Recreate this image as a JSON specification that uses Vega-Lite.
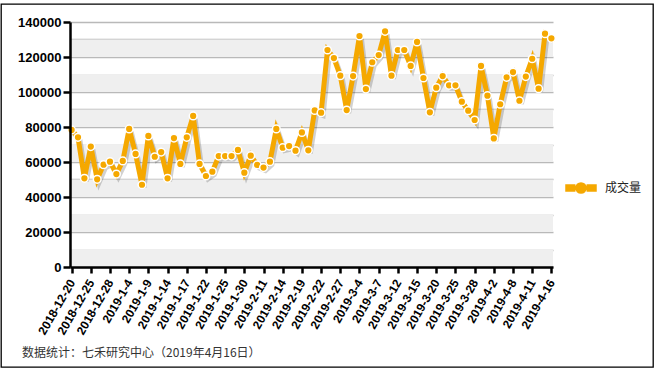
{
  "$schema": "https://vega.github.io/schema/vega-lite/v6.json",
  "width": 652,
  "height": 363,
  "autosize": {"type": "none"},
  "padding": {"left": 1, "top": 4, "right": 5, "bottom": 6},
  "background": "white",
  "config": {"view": {"stroke": "#000000", "strokeWidth": 1.3}},
  "title": {
    "text": "数据统计：七禾研究中心（2019年4月16日）",
    "orient": "bottom",
    "anchor": "start",
    "frame": "group",
    "dx": 21,
    "offset": -14,
    "baseline": "middle",
    "font": "Noto Sans CJK SC",
    "fontSize": 12,
    "fontWeight": "normal",
    "color": "#333333"
  },
  "resolve": {"scale": {"x": "independent"}, "axis": {"x": "independent", "y": "independent"}},
  "datasets": {
    "bands": [
      {"lo": 0, "hi": 10000},
      {"lo": 20000, "hi": 30000},
      {"lo": 40000, "hi": 50000},
      {"lo": 60000, "hi": 70000},
      {"lo": 80000, "hi": 90000},
      {"lo": 100000, "hi": 110000},
      {"lo": 120000, "hi": 130000}
    ],
    "vol": [
      {"date": "2018-12-20", "v": 78300},
      {"date": "2018-12-21", "v": 74100},
      {"date": "2018-12-24", "v": 50700},
      {"date": "2018-12-25", "v": 68800},
      {"date": "2018-12-26", "v": 50100},
      {"date": "2018-12-27", "v": 58500},
      {"date": "2018-12-28", "v": 60200},
      {"date": "2019-1-2", "v": 53100},
      {"date": "2019-1-3", "v": 60600},
      {"date": "2019-1-4", "v": 78900},
      {"date": "2019-1-7", "v": 64600},
      {"date": "2019-1-8", "v": 47000},
      {"date": "2019-1-9", "v": 74900},
      {"date": "2019-1-10", "v": 63000},
      {"date": "2019-1-11", "v": 65700},
      {"date": "2019-1-14", "v": 50700},
      {"date": "2019-1-15", "v": 73700},
      {"date": "2019-1-16", "v": 58900},
      {"date": "2019-1-17", "v": 74100},
      {"date": "2019-1-18", "v": 86300},
      {"date": "2019-1-21", "v": 58900},
      {"date": "2019-1-22", "v": 52000},
      {"date": "2019-1-23", "v": 54500},
      {"date": "2019-1-24", "v": 63400},
      {"date": "2019-1-25", "v": 63400},
      {"date": "2019-1-28", "v": 63400},
      {"date": "2019-1-29", "v": 66900},
      {"date": "2019-1-30", "v": 53900},
      {"date": "2019-1-31", "v": 63600},
      {"date": "2019-2-1", "v": 58300},
      {"date": "2019-2-11", "v": 56800},
      {"date": "2019-2-12", "v": 60200},
      {"date": "2019-2-13", "v": 78900},
      {"date": "2019-2-14", "v": 68200},
      {"date": "2019-2-15", "v": 69100},
      {"date": "2019-2-18", "v": 66500},
      {"date": "2019-2-19", "v": 76900},
      {"date": "2019-2-20", "v": 66700},
      {"date": "2019-2-21", "v": 89500},
      {"date": "2019-2-22", "v": 88200},
      {"date": "2019-2-25", "v": 124000},
      {"date": "2019-2-26", "v": 119400},
      {"date": "2019-2-27", "v": 109300},
      {"date": "2019-2-28", "v": 89700},
      {"date": "2019-3-1", "v": 109100},
      {"date": "2019-3-4", "v": 132000},
      {"date": "2019-3-5", "v": 101700},
      {"date": "2019-3-6", "v": 117000},
      {"date": "2019-3-7", "v": 121100},
      {"date": "2019-3-8", "v": 134700},
      {"date": "2019-3-11", "v": 109300},
      {"date": "2019-3-12", "v": 124000},
      {"date": "2019-3-13", "v": 124000},
      {"date": "2019-3-14", "v": 114900},
      {"date": "2019-3-15", "v": 128600},
      {"date": "2019-3-18", "v": 108000},
      {"date": "2019-3-19", "v": 88400},
      {"date": "2019-3-20", "v": 102500},
      {"date": "2019-3-21", "v": 109100},
      {"date": "2019-3-22", "v": 103800},
      {"date": "2019-3-25", "v": 103800},
      {"date": "2019-3-26", "v": 94500},
      {"date": "2019-3-27", "v": 89300},
      {"date": "2019-3-28", "v": 84000},
      {"date": "2019-3-29", "v": 114900},
      {"date": "2019-4-1", "v": 97900},
      {"date": "2019-4-2", "v": 73500},
      {"date": "2019-4-3", "v": 93000},
      {"date": "2019-4-4", "v": 108400},
      {"date": "2019-4-8", "v": 111400},
      {"date": "2019-4-9", "v": 95000},
      {"date": "2019-4-10", "v": 108800},
      {"date": "2019-4-11", "v": 119000},
      {"date": "2019-4-12", "v": 101900},
      {"date": "2019-4-15", "v": 133300},
      {"date": "2019-4-16", "v": 130700}
    ]
  },
  "layer": [
    {
      "data": {"name": "bands"},
      "mark": {"type": "rect", "color": "#efefef"},
      "encoding": {
        "x": {"datum": 0, "type": "quantitative", "scale": {"domain": [0, 1], "range": [69, 552], "nice": false, "zero": false}, "axis": null},
        "x2": {"datum": 1},
        "y": {
          "field": "lo",
          "type": "quantitative",
          "scale": {"domain": [0, 140000], "nice": false, "range": [263, 18]},
          "axis": {
            "orient": "left",
            "values": [0, 10000, 20000, 30000, 40000, 50000, 60000, 70000, 80000, 90000, 100000, 110000, 120000, 130000, 140000],
            "grid": true,
            "gridColor": "#b9b9b9",
            "gridWidth": 1.5,
            "domain": false,
            "ticks": false,
            "labels": false,
            "title": null,
            "zindex": 0
          }
        },
        "y2": {"field": "hi"}
      }
    },
    {
      "data": {"name": "vol"},
      "mark": {"type": "line", "color": "#000000", "opacity": 0.18, "strokeWidth": 5, "xOffset": 2, "yOffset": 3},
      "encoding": {
        "x": {"field": "date", "type": "ordinal", "sort": null, "scale": {"type": "point", "padding": 0.25, "range": [69, 552]}, "axis": null},
        "y": {"field": "v", "type": "quantitative", "axis": null}
      }
    },
    {
      "data": {"name": "vol"},
      "mark": {"type": "line", "strokeWidth": 5},
      "encoding": {
        "x": {
          "field": "date",
          "type": "ordinal",
          "sort": null,
          "scale": {"type": "point", "padding": 0.25, "range": [69, 552]},
          "axis": {
            "orient": "bottom",
            "offset": -100,
            "values": ["2018-12-20", "2018-12-25", "2018-12-28", "2019-1-4", "2019-1-9", "2019-1-14", "2019-1-17", "2019-1-22", "2019-1-25", "2019-1-30", "2019-2-11", "2019-2-14", "2019-2-19", "2019-2-22", "2019-2-27", "2019-3-4", "2019-3-7", "2019-3-12", "2019-3-15", "2019-3-20", "2019-3-25", "2019-3-28", "2019-4-2", "2019-4-8", "2019-4-11", "2019-4-16"],
            "labelAngle": -60,
            "labelAlign": "right",
            "labelBaseline": "middle",
            "labelFont": "Liberation Sans",
            "labelFontWeight": "bold",
            "labelFontSize": 12,
            "labelColor": "#000000",
            "labelPadding": 7,
            "labelOverlap": false,
            "tickColor": "#000000",
            "tickWidth": 2.5,
            "tickSize": 6,
            "domainColor": "#000000",
            "domainWidth": 2.5,
            "grid": false,
            "title": null,
            "zindex": 1
          }
        },
        "y": {
          "field": "v",
          "type": "quantitative",
          "axis": {
            "orient": "left",
            "offset": -69,
            "values": [0, 20000, 40000, 60000, 80000, 100000, 120000, 140000],
            "format": "d",
            "labelOverlap": false,
            "grid": false,
            "tickColor": "#000000",
            "tickWidth": 2.5,
            "tickSize": 7,
            "domainColor": "#000000",
            "domainWidth": 2.5,
            "labelFont": "Liberation Sans",
            "labelFontWeight": "bold",
            "labelFontSize": 13,
            "labelColor": "#000000",
            "labelPadding": 2,
            "title": null,
            "zindex": 1
          }
        },
        "color": {
          "datum": "成交量",
          "scale": {"range": ["#F5A800"]},
          "legend": {
            "orient": "none",
            "legendX": 564,
            "legendY": 168,
            "title": null,
            "padding": 0,
            "symbolType": "M-1,-0.2L-0.42,-0.2L-0.42,0.2L-1,0.2Z M0.42,-0.2L1,-0.2L1,0.2L0.42,0.2Z M0.34,0A0.34,0.34,0,1,1,-0.34,0A0.34,0.34,0,1,1,0.34,0Z",
            "symbolSize": 900,
            "labelFont": "Noto Sans CJK SC",
            "labelFontSize": 12,
            "labelColor": "#222222",
            "labelOffset": 8,
            "encode": {
              "symbols": {
                "update": {
                  "fill": {"value": "#F5A800"},
                  "stroke": {"value": "#ffffff"},
                  "strokeWidth": {"value": 1.5},
                  "opacity": {"value": 1}
                }
              }
            }
          }
        }
      }
    },
    {
      "data": {"name": "vol"},
      "mark": {"type": "point", "shape": "circle", "filled": true, "fill": "#F5A800", "stroke": "#ffffff", "strokeWidth": 1.5, "size": 60, "opacity": 1},
      "encoding": {
        "x": {"field": "date", "type": "ordinal", "sort": null, "scale": {"type": "point", "padding": 0.25, "range": [69, 552]}, "axis": null},
        "y": {"field": "v", "type": "quantitative", "axis": null}
      }
    }
  ]
}
